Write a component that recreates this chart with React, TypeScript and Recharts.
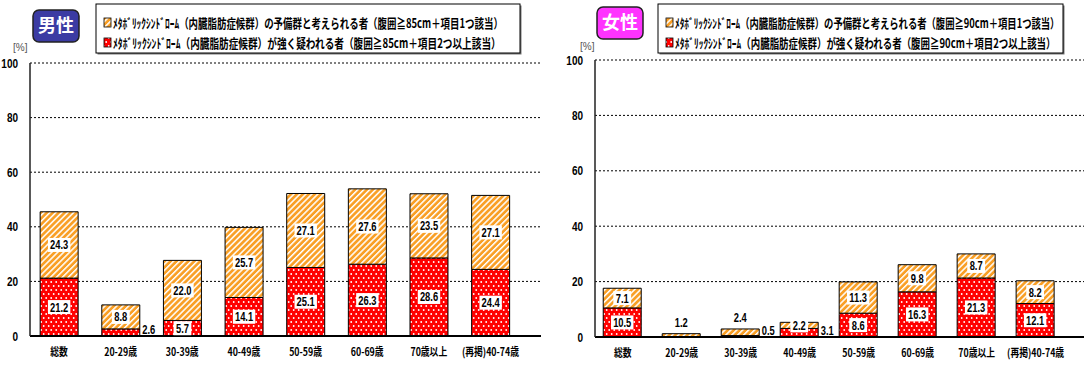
import { useLayoutEffect, useRef, useState } from 'react';
import { BarChart, Bar, XAxis, YAxis, CartesianGrid, LabelList } from 'recharts';

const categories = ['総数', '20-29歳', '30-39歳', '40-49歳', '50-59歳', '60-69歳', '70歳以上', '(再掲)40-74歳'];
const maleStrong = [21.2, 2.6, 5.7, 14.1, 25.1, 26.3, 28.6, 24.4];
const maleReserve = [24.3, 8.8, 22.0, 25.7, 27.1, 27.6, 23.5, 27.1];
const femaleStrong = [10.5, 0, 0.5, 3.1, 8.6, 16.3, 21.3, 12.1];
const femaleReserve = [7.1, 1.2, 2.4, 2.2, 11.3, 9.8, 8.7, 8.2];
const yTicks = [0, 20, 40, 60, 80, 100];
const xTicks = categories.map((_, i) => i);

const maleLegend = [
  'ﾒﾀﾎﾞﾘｯｸｼﾝﾄﾞﾛｰﾑ（内臓脂肪症候群）の予備群と考えられる者（腹囲≧85cm＋項目1つ該当）',
  'ﾒﾀﾎﾞﾘｯｸｼﾝﾄﾞﾛｰﾑ（内臓脂肪症候群）が強く疑われる者（腹囲≧85cm＋項目2つ以上該当）',
];
const femaleLegend = [
  'ﾒﾀﾎﾞﾘｯｸｼﾝﾄﾞﾛｰﾑ（内臓脂肪症候群）の予備群と考えられる者（腹囲≧90cm＋項目1つ該当）',
  'ﾒﾀﾎﾞﾘｯｸｼﾝﾄﾞﾛｰﾑ（内臓脂肪症候群）が強く疑われる者（腹囲≧90cm＋項目2つ以上該当）',
];

const NUM_FONT = "'Liberation Sans', Arial, sans-serif";
const JP_FONT = "'Noto Sans CJK JP', sans-serif";

const Patterns = ({ id }: { id: string }) => (
  <defs>
    <pattern id={`dots-${id}`} width={5} height={8} patternUnits="userSpaceOnUse">
      <rect width={5} height={8} fill="#FF0000" />
      <circle cx={1.2} cy={2} r={0.9} fill="#fff" />
      <circle cx={3.7} cy={6} r={0.9} fill="#fff" />
    </pattern>
    <pattern id={`stripes-${id}`} width={4.2} height={6} patternUnits="userSpaceOnUse" patternTransform="rotate(45)">
      <rect width={4.2} height={6} fill="#F99F25" />
      <rect width={1.5} height={6} fill="#fff" />
    </pattern>
  </defs>
);

const makeLabel = (kind: 'strong' | 'reserve', strong: number[]) => (props: any) => {
  const { x, y, width, height, value, index } = props;
  if (!value) return null;
  const text = Number(value).toFixed(1);
  let tx = x + width / 2;
  let ty = y + height / 2;
  let box = true;
  if (kind === 'strong' && value < 4) {
    tx = x + width + 9;
    ty = y + height - 7;
    box = false;
  }
  if (kind === 'reserve' && strong[index] + value < 3) {
    ty = y - 11;
    box = false;
  }
  const w = text.length * 4.6 + 4;
  return (
    <g>
      {box && <rect x={tx - w / 2} y={ty - 7} width={w} height={14} fill="#fff" />}
      <g transform={`translate(${tx},${ty + 4.5}) scale(0.72,1)`}>
        <text textAnchor="middle" fontFamily={NUM_FONT} fontWeight="bold" fontSize={13} fill="#000">{text}</text>
      </g>
    </g>
  );
};

const CatTick = (props: any) => {
  const { x, y, payload } = props;
  return (
    <g transform={`translate(${x},${y + 12}) scale(0.8,1)`}>
      <text textAnchor="middle" fontFamily={JP_FONT} fontWeight="bold" fontSize={11} fill="#000">{categories[payload.value]}</text>
    </g>
  );
};

const NumTick = (props: any) => {
  const { x, y, payload } = props;
  return (
    <g transform={`translate(${x},${y + 4.5}) scale(0.8,1)`}>
      <text textAnchor="end" fontFamily={NUM_FONT} fontWeight="bold" fontSize={12.5} fill="#000">{payload.value}</text>
    </g>
  );
};

interface PanelProps {
  id: string;
  strong: number[];
  reserve: number[];
  left: number;
  top: number;
  axisWidth: number;
  bottom: number;
  borderColor: string;
}

const Panel = ({ id, strong, reserve, left, top, axisWidth, bottom, borderColor }: PanelProps) => {
  const data = categories.map((name, i) => ({ idx: i, name, strong: strong[i], reserve: reserve[i] }));
  return (
    <div style={{ position: 'absolute', left, top: 0 }}>
      <BarChart width={543} height={365} data={data} margin={{ top, right: 2, bottom: 0, left: 0 }} barSize={38}>
        <Patterns id={id} />
        <CartesianGrid vertical={false} stroke="#000" strokeDasharray="2 2" />
        <XAxis dataKey="idx" type="number" domain={[-0.47, 7.82]} ticks={xTicks} allowDataOverflow height={bottom}
          tickLine={false} axisLine={{ stroke: '#000', strokeWidth: 2 }} tick={<CatTick />} interval={0} />
        <YAxis domain={[0, 100]} ticks={yTicks} width={axisWidth} tickLine={false} axisLine={{ stroke: '#222', strokeWidth: 1.5 }} tick={<NumTick />} tickMargin={6} />
        <YAxis yAxisId="edge" orientation="right" domain={[0, 100]} width={0} tick={false} tickLine={false} axisLine={{ stroke: borderColor, strokeWidth: 1.5 }} />
        <Bar dataKey="strong" stackId="a" fill={`url(#dots-${id})`} stroke="#000" strokeWidth={1} isAnimationActive={false}>
          <LabelList dataKey="strong" content={makeLabel('strong', strong)} />
        </Bar>
        <Bar dataKey="reserve" stackId="a" fill={`url(#stripes-${id})`} stroke="#000" strokeWidth={1} isAnimationActive={false}>
          <LabelList dataKey="reserve" content={makeLabel('reserve', strong)} />
        </Bar>
      </BarChart>
    </div>
  );
};

// squeeze a line of text horizontally so it fills the given width
const FitText = ({ x, y, width, text }: { x: number; y: number; width: number; text: string }) => {
  const ref = useRef<SVGTextElement>(null);
  const [sx, setSx] = useState(0.7);
  useLayoutEffect(() => {
    if (ref.current) {
      const w = ref.current.getComputedTextLength();
      if (w > 0) setSx(width / w);
    }
  }, [width, text]);
  return (
    <g transform={`translate(${x},${y}) scale(${sx},1)`}>
      <text ref={ref} fontFamily={JP_FONT} fontWeight="bold" fontSize={13} fill="#000">{text}</text>
    </g>
  );
};

const LegendBox = ({ id, x, width, lines, textWidths }: { id: string; x: number; width: number; lines: string[]; textWidths: number[] }) => (
  <g>
    <rect x={x + 1.5} y={5.5} width={width} height={49} fill="#777" />
    <rect x={x} y={4} width={width} height={49} fill="#fff" stroke="#000" strokeWidth={1} />
    <rect x={x + 8} y={18} width={7} height={9} fill={`url(#stripes-${id})`} stroke="#000" strokeWidth={0.8} />
    <rect x={x + 8} y={38} width={7} height={9} fill={`url(#dots-${id})`} stroke="#000" strokeWidth={0.8} />
    {lines.map((t, i) => (
      <FitText key={i} x={x + 17} y={27.5 + i * 20} width={textWidths[i]} text={t} />
    ))}
  </g>
);

const Badge = ({ x, y, fill, label }: { x: number; y: number; fill: string; label: string }) => (
  <g>
    <rect x={x} y={y} width={46} height={32} rx={6} fill={fill} stroke="#222" strokeWidth={1.5} />
    <text x={x + 23} y={y + 22} textAnchor="middle" fontFamily={JP_FONT} fontWeight="bold" fontSize={18} fill="#fff">{label}</text>
  </g>
);

export default function App() {
  return (
    <div style={{ position: 'absolute', left: 0, top: 0, width: 1086, height: 365, background: '#fff', overflow: 'hidden' }}>
      <Panel id="m" strong={maleStrong} reserve={maleReserve} left={0} top={63} axisWidth={30} bottom={29} borderColor="#999" />
      <Panel id="f" strong={femaleStrong} reserve={femaleReserve} left={543} top={60} axisWidth={52} bottom={28} borderColor="#222" />
      <svg width={1086} height={60} style={{ position: 'absolute', left: 0, top: 0 }}>
        <Patterns id="lg" />
        <Badge x={33} y={10} fill="#3B3BA3" label="男性" />
        <Badge x={597} y={7} fill="#FF33FF" label="女性" />
        <text x={13} y={51} fontFamily={NUM_FONT} fontSize={10} fill="#555">[%]</text>
        <text x={580} y={50} fontFamily={NUM_FONT} fontSize={10} fill="#555">[%]</text>
        <LegendBox id="lg" x={96} width={424} lines={maleLegend} textWidths={[390, 388]} />
        <LegendBox id="lg" x={658} width={405} lines={femaleLegend} textWidths={[385, 381]} />
      </svg>
    </div>
  );
}
